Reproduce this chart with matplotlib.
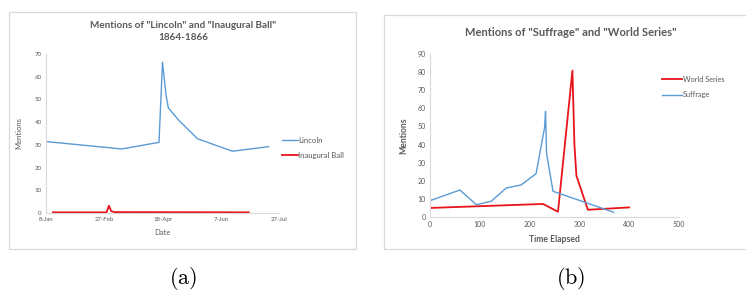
import matplotlib
matplotlib.use('Agg')

from datetime import datetime
import matplotlib.pyplot as plt
from matplotlib.patches import Rectangle

plt.rcParams['font.family'] = ['Lato', 'DejaVu Sans']
plt.rcParams['mathtext.fontset'] = 'cm'

# (a) mentions by date (year 1865, not a leap year)
lincoln_dates = ['1865-01-09', '1865-03-14', '1865-04-15', '1865-04-18', '1865-04-21',
                 '1865-04-23', '1865-05-02', '1865-05-18', '1865-06-17', '1865-07-18']
lincoln_vals = [31.4, 28.2, 31.1, 66.4, 52.0, 46.3, 40.8, 32.7, 27.2, 29.2]
ball_dates = ['1865-01-14', '1865-03-01', '1865-03-03', '1865-03-05', '1865-03-08', '1865-07-01']
ball_vals = [0.3, 0.3, 3.2, 0.8, 0.4, 0.3]
date_ticks = ['1865-01-08', '1865-02-27', '1865-04-18', '1865-06-07', '1865-07-27']

# (b) mentions by time elapsed
suff_t = [0, 60, 93, 123, 153, 183, 213, 230, 232, 234, 247, 369]
suff_v = [9.0, 14.9, 6.8, 8.7, 16.0, 17.7, 23.9, 49.3, 58.3, 35.3, 14.2, 2.6]
ws_t = [0, 227, 257, 286, 290, 294, 317, 400]
ws_v = [5.0, 7.2, 2.9, 80.8, 40.0, 22.8, 4.0, 5.3]

blue = '#5b9bd5'
red = '#e8141b'
grey = '#595959'
axis_grey = '#d9d9d9'

W, H = 746, 293
fig = plt.figure(figsize=(W / 100, H / 100), dpi=100)


def fx(px):
    return px / W


def fy(py):
    return 1 - py / H


# chart frames
fig.patches.append(Rectangle((fx(9), fy(249)), fx(347), fy(12) - fy(249),
                             transform=fig.transFigure, fill=False,
                             edgecolor=axis_grey, lw=0.9))
fig.patches.append(Rectangle((fx(384), fy(249)), fx(400), fy(15) - fy(249),
                             transform=fig.transFigure, fill=False,
                             edgecolor=axis_grey, lw=0.9))


def style(ax, size):
    for side in ['top', 'right']:
        ax.spines[side].set_visible(False)
    for side in ['left', 'bottom']:
        ax.spines[side].set_color(axis_grey)
        ax.spines[side].set_linewidth(0.8)
    ax.tick_params(length=0, labelsize=size, colors=grey, pad=3)


# ---- (a)
to_dt = lambda s: datetime.strptime(s, '%Y-%m-%d')
ax1 = fig.add_axes([fx(46), fy(213), fx(279) - fx(46), fy(54) - fy(213)])
ax1.plot([to_dt(d) for d in lincoln_dates], lincoln_vals, color=blue, lw=1.0,
         label='Lincoln')
ax1.plot([to_dt(d) for d in ball_dates], ball_vals, color=red, lw=1.3,
         label='Inaugural Ball')
ax1.set_xlim(to_dt(date_ticks[0]), to_dt(date_ticks[-1]))
ax1.set_ylim(0, 70)
ax1.set_yticks(range(0, 71, 10))
ax1.set_xticks([to_dt(d) for d in date_ticks])
ax1.set_xticklabels([to_dt(d).strftime('%d-%b').lstrip('0') for d in date_ticks])
style(ax1, 4.4)
ax1.set_xlabel('Date', fontsize=5.5, color=grey, labelpad=5)
ax1.set_ylabel('Mentions', fontsize=5.5, color=grey, labelpad=9)
fig.text(fx(183), fy(26), 'Mentions of "Lincoln" and "Inaugural Ball"',
         ha='center', va='center', fontsize=7.2, color=grey, fontweight='bold')
fig.text(fx(183), fy(38), '1864-1866',
         ha='center', va='center', fontsize=7.2, color=grey, fontweight='bold')
ax1.legend(loc='center left', bbox_to_anchor=(fx(282), fy(148)),
           bbox_transform=fig.transFigure, frameon=False, fontsize=5.6,
           handlelength=2.0, handletextpad=0.1, borderpad=0, borderaxespad=0,
           labelspacing=1.0, labelcolor=grey)

# ---- (b)
ax2 = fig.add_axes([fx(430), fy(217), fx(679) - fx(430), fy(54) - fy(217)])
ax2.plot(ws_t, ws_v, color=red, lw=1.3, label='World Series')
ax2.plot(suff_t, suff_v, color=blue, lw=1.0, label='Suffrage')
ax2.set_xlim(0, 500)
ax2.set_ylim(0, 90)
ax2.set_yticks(range(0, 91, 10))
ax2.set_xticks(range(0, 501, 100))
style(ax2, 5.0)
ax2.set_xlabel('Time Elapsed', fontsize=6.2, color=grey, fontweight='bold', labelpad=5)
ax2.set_ylabel('Mentions', fontsize=6.2, color=grey, fontweight='bold', labelpad=7)
fig.text(fx(571), fy(33), 'Mentions of "Suffrage" and "World Series"',
         ha='center', va='center', fontsize=8, color=grey, fontweight='bold')
ax2.legend(loc='center left', bbox_to_anchor=(fx(662), fy(87)),
           bbox_transform=fig.transFigure, frameon=False, fontsize=5.3,
           handlelength=2.7, handletextpad=0.1, borderpad=0, borderaxespad=0,
           labelspacing=1.2, labelcolor=grey)

# sub-figure labels
fig.text(fx(183), fy(278), r'$\mathrm{(a)}$', ha='center', va='center', fontsize=16)
fig.text(fx(571), fy(278), r'$\mathrm{(b)}$', ha='center', va='center', fontsize=16)

fig.savefig('out.png', dpi=100)
